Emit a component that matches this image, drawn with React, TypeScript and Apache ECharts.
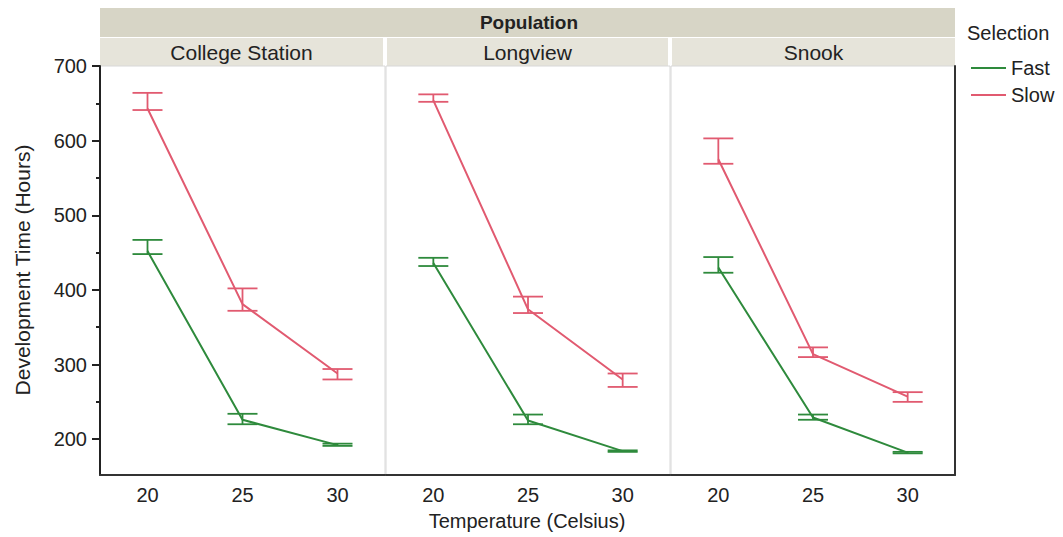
import React, { useEffect, useRef } from "react";
import * as echarts from "echarts";

const categories = ["20", "25", "30"];
const populations = ["College Station", "Longview", "Snook"];
const seriesNames = ["Fast", "Slow"];

// means and error-bar limits per population (rows) and temperature (cols)
const fastMean = [
  [452, 226, 192],
  [436, 225, 184],
  [430, 229, 182],
];
const fastLow = [
  [448, 220, 191],
  [432, 220, 183],
  [423, 226, 181],
];
const fastHigh = [
  [467, 234, 194],
  [443, 233, 185],
  [444, 233, 183],
];
const slowMean = [
  [643, 381, 288],
  [654, 374, 280],
  [575, 314, 257],
];
const slowLow = [
  [641, 372, 280],
  [652, 369, 270],
  [569, 310, 250],
];
const slowHigh = [
  [664, 402, 294],
  [662, 391, 288],
  [603, 323, 263],
];

const yMajorTicks = [200, 300, 400, 500, 600, 700];
const yMinorTicks = [250, 350, 450, 550, 650];

const FAST = "#2e8a3c";
const SLOW = "#e15a70";
const FONT = "Liberation Sans";
const TXT = "#222";

export default function App() {
  const ref = useRef<HTMLDivElement>(null);

  useEffect(() => {
    document.body.style.margin = "0";
    const chart = echarts.init(ref.current!, null, { renderer: "svg" });

    const gridLeft = [100, 386, 671];
    const gridWidth = [285, 284, 284];
    const top = 66;
    const height = 409;
    const yMin = 152;
    const yMax = 700;

    const grids = populations.map((_, i) => ({
      left: gridLeft[i],
      top,
      width: gridWidth[i],
      height,
      show: true,
      borderColor: "#d8d8d8",
      borderWidth: 1,
      backgroundColor: "#fff",
    }));

    const xAxes = populations.map((_, i) => ({
      type: "category",
      gridIndex: i,
      data: categories,
      boundaryGap: true,
      axisLine: { show: true, lineStyle: { color: "#333", width: 2 } },
      axisTick: { show: false },
      axisLabel: { fontSize: 20, color: TXT, margin: 10, fontFamily: FONT },
      splitLine: { show: false },
    }));

    const baseY = {
      type: "value",
      min: yMin,
      max: yMax,
      splitLine: { show: false },
    };
    const yAxes: any[] = [
      {
        ...baseY,
        gridIndex: 0,
        position: "left",
        axisLine: { show: true, lineStyle: { color: "#222", width: 2 } },
        axisTick: { show: true, customValues: yMajorTicks, length: 8, lineStyle: { color: "#222", width: 2 } },
        axisLabel: { customValues: yMajorTicks, fontSize: 20, color: TXT, margin: 13, fontFamily: FONT },
      },
      {
        ...baseY,
        gridIndex: 0,
        position: "left",
        axisLine: { show: false },
        axisTick: { show: true, customValues: yMinorTicks, length: 4, lineStyle: { color: "#222", width: 2 } },
        axisLabel: { show: false },
      },
      {
        ...baseY,
        gridIndex: 1,
        axisLine: { show: false },
        axisTick: { show: false },
        axisLabel: { show: false },
      },
      {
        ...baseY,
        gridIndex: 2,
        position: "right",
        axisLine: { show: true, lineStyle: { color: "#333", width: 2 } },
        axisTick: { show: false },
        axisLabel: { show: false },
      },
    ];
    const yIndexFor = [0, 2, 3];

    const errorBars = (low: number[], high: number[], color: string, i: number, name: string) => ({
      type: "custom",
      name,
      xAxisIndex: i,
      yAxisIndex: yIndexFor[i],
      data: low.map((lo, j) => [j, lo, high[j]]),
      encode: { x: 0, y: [1, 2] },
      z: 3,
      renderItem: (params: any, api: any) => {
        const x = api.value(0);
        const lo = api.coord([x, api.value(1)]);
        const hi = api.coord([x, api.value(2)]);
        const hw = 15;
        const style = { stroke: color, lineWidth: 1.8 };
        return {
          type: "group",
          children: [
            { type: "line", shape: { x1: lo[0], y1: lo[1], x2: hi[0], y2: hi[1] }, style },
            { type: "line", shape: { x1: lo[0] - hw, y1: lo[1], x2: lo[0] + hw, y2: lo[1] }, style },
            { type: "line", shape: { x1: hi[0] - hw, y1: hi[1], x2: hi[0] + hw, y2: hi[1] }, style },
          ],
        };
      },
    });

    const series: any[] = [];
    populations.forEach((_, i) => {
      series.push({
        type: "line",
        name: "Fast",
        xAxisIndex: i,
        yAxisIndex: yIndexFor[i],
        data: fastMean[i],
        showSymbol: false,
        symbol: "none",
        lineStyle: { color: FAST, width: 2 },
        itemStyle: { color: FAST },
        z: 4,
      });
      series.push({
        type: "line",
        name: "Slow",
        xAxisIndex: i,
        yAxisIndex: yIndexFor[i],
        data: slowMean[i],
        showSymbol: false,
        symbol: "none",
        lineStyle: { color: SLOW, width: 2 },
        itemStyle: { color: SLOW },
        z: 4,
      });
      series.push(errorBars(fastLow[i], fastHigh[i], FAST, i, "Fast SE " + i));
      series.push(errorBars(slowLow[i], slowHigh[i], SLOW, i, "Slow SE " + i));
    });

    const stripX = [100, 387, 672];
    const stripW = [283, 281, 283];
    const graphic: any[] = [
      { type: "rect", shape: { x: 100, y: 8, width: 855, height: 29 }, style: { fill: "#d7d5c6" }, z: -1 },
      ...populations.map((_, i) => ({
        type: "rect",
        shape: { x: stripX[i], y: 38, width: stripW[i], height: 28 },
        style: { fill: "#e6e4da" },
        z: -1,
      })),
      {
        type: "text",
        x: 529,
        y: 22,
        style: { text: "Population", font: `bold 19px "${FONT}"`, fill: TXT, align: "center", verticalAlign: "middle" },
      },
      ...populations.map((p, i) => ({
        type: "text",
        x: stripX[i] + stripW[i] / 2,
        y: 52,
        style: { text: p, font: `21px "${FONT}"`, fill: TXT, align: "center", verticalAlign: "middle" },
      })),
      {
        type: "text",
        x: 967,
        y: 33,
        style: { text: "Selection", font: `20px "${FONT}"`, fill: TXT, align: "left", verticalAlign: "middle" },
      },
      {
        type: "text",
        x: 22,
        y: 270,
        rotation: Math.PI / 2,
        style: { text: "Development Time (Hours)", font: `21px "${FONT}"`, fill: TXT, align: "center", verticalAlign: "middle" },
      },
      {
        type: "text",
        x: 527,
        y: 521,
        style: { text: "Temperature (Celsius)", font: `20px "${FONT}"`, fill: TXT, align: "center", verticalAlign: "middle" },
      },
    ];

    chart.setOption({
      animation: false,
      backgroundColor: "#fff",
      textStyle: { fontFamily: FONT },
      grid: grids,
      xAxis: xAxes,
      yAxis: yAxes,
      legend: {
        data: seriesNames,
        orient: "vertical",
        left: 966,
        top: 53,
        icon: "rect",
        itemWidth: 35,
        itemHeight: 2,
        itemGap: 7,
        textStyle: { fontSize: 20, color: TXT, fontFamily: FONT },
      },
      graphic,
      series,
    });

    return () => chart.dispose();
  }, []);

  return <div ref={ref} style={{ width: 1063, height: 537 }} />;
}
